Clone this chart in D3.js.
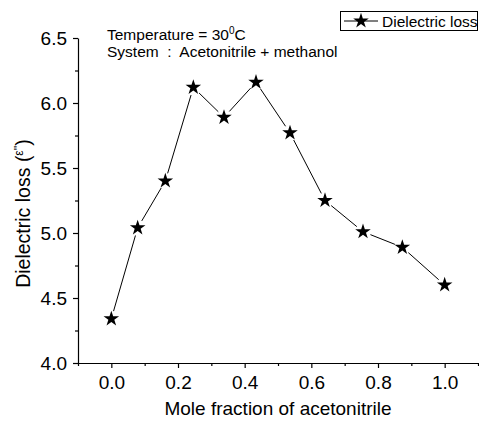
<!DOCTYPE html>
<html>
<head>
<meta charset="utf-8">
<script src="https://cdn.jsdelivr.net/npm/d3@7"></script>
<style>
  body { margin: 0; background: #fff; }
  svg { display: block; font-family: Arial, "Liberation Sans", sans-serif; }
</style>
</head>
<body>
<div id="chart"></div>
<script>
// Data
var moleFraction = [0.0, 0.079, 0.162, 0.246, 0.338, 0.434, 0.536, 0.641, 0.755, 0.873, 1.0];
var dielectricLoss = [4.34, 5.04, 5.40, 6.12, 5.89, 6.16, 5.77, 5.25, 5.01, 4.89, 4.60];
var xTicks = [0.0, 0.2, 0.4, 0.6, 0.8, 1.0];
var xMinorTicks = [-0.1, 0.1, 0.3, 0.5, 0.7, 0.9, 1.1];
var yTicks = [4.0, 4.5, 5.0, 5.5, 6.0, 6.5];
var yMinorTicks = [4.25, 4.75, 5.25, 5.75, 6.25];

var svgWidth = 479;
var svgHeight = 421;

var margin = { top: 38, right: 1, bottom: 58, left: 78 };
var chartWidth = svgWidth - margin.left - margin.right;
var chartHeight = svgHeight - margin.top - margin.bottom;

var svg = d3.select("#chart")
  .append("svg")
  .attr("width", svgWidth)
  .attr("height", svgHeight);

var chartGroup = svg.append("g")
  .attr("transform", `translate(${margin.left}, ${margin.top})`);

var xScale = d3.scaleLinear().domain([-0.1, 1.1]).range([0, chartWidth]);
var yScale = d3.scaleLinear().domain([4.0, 6.5]).range([chartHeight, 0]);

var points = moleFraction.map((x, i) => ({ x: x, y: dielectricLoss[i] }));

// Minor ticks first (no labels)
chartGroup.append("g")
  .attr("transform", `translate(0, ${chartHeight})`)
  .call(d3.axisBottom(xScale).tickValues(xMinorTicks).tickSize(3).tickFormat(""))
  .call(g => g.select(".domain").remove());

chartGroup.append("g")
  .call(d3.axisLeft(yScale).tickValues(yMinorTicks).tickSize(3).tickFormat(""))
  .call(g => g.select(".domain").remove());

// Major axes
var bottomAxis = d3.axisBottom(xScale)
  .tickValues(xTicks)
  .tickSizeInner(5)
  .tickSizeOuter(0)
  .tickPadding(8)
  .tickFormat(d3.format(".1f"));

var leftAxis = d3.axisLeft(yScale)
  .tickValues(yTicks)
  .tickSizeInner(5)
  .tickSizeOuter(0)
  .tickPadding(6)
  .tickFormat(d3.format(".1f"));

chartGroup.append("g")
  .attr("transform", `translate(0, ${chartHeight})`)
  .call(bottomAxis);

chartGroup.append("g")
  .call(leftAxis);

chartGroup.selectAll(".tick text")
  .attr("font-family", "Arial, 'Liberation Sans', sans-serif")
  .attr("font-size", 19)
  .attr("fill", "#000");
chartGroup.selectAll(".domain, .tick line")
  .attr("stroke", "#000")
  .attr("stroke-width", 1.2);

// Connecting line, trimmed so it stops short of each star
var gap = 8;
var segments = d3.pairs(points).map(([a, b]) => {
  var x1 = xScale(a.x), y1 = yScale(a.y), x2 = xScale(b.x), y2 = yScale(b.y);
  var len = Math.hypot(x2 - x1, y2 - y1);
  var ux = (x2 - x1) / len, uy = (y2 - y1) / len;
  return [x1 + ux * gap, y1 + uy * gap, x2 - ux * gap, y2 - uy * gap];
});

chartGroup.selectAll(".seg")
  .data(segments)
  .enter()
  .append("line")
  .attr("class", "seg")
  .attr("x1", d => d[0])
  .attr("y1", d => d[1])
  .attr("x2", d => d[2])
  .attr("y2", d => d[3])
  .attr("stroke", "#000")
  .attr("stroke-width", 1);

var star = d3.symbol().type(d3.symbolStar).size(75);

chartGroup.selectAll(".star")
  .data(points)
  .enter()
  .append("path")
  .attr("class", "star")
  .attr("d", star)
  .attr("transform", d => `translate(${xScale(d.x)}, ${yScale(d.y)})`)
  .attr("fill", "#000");

// Axis titles
svg.append("text")
  .attr("x", margin.left + chartWidth / 2)
  .attr("y", 415)
  .attr("text-anchor", "middle")
  .attr("font-size", 19)
  .text("Mole fraction of acetonitrile");

var yTitle = svg.append("text")
  .attr("transform", `translate(30, ${margin.top + chartHeight / 2 + 13}) rotate(-90)`)
  .attr("text-anchor", "middle")
  .attr("font-size", 19.5);
yTitle.append("tspan").text("Dielectric loss (");
yTitle.append("tspan").attr("font-size", 12).attr("dy", -7).text("ε''");
yTitle.append("tspan").attr("dy", 7).text(")");

// Annotation
var note1 = svg.append("text")
  .attr("x", 107)
  .attr("y", 40)
  .attr("font-size", 15.5);
note1.append("tspan").text("Temperature = 30");
note1.append("tspan").attr("font-size", 10).attr("dy", -6).text("0");
note1.append("tspan").attr("dy", 6).text("C");

svg.append("text")
  .attr("x", 107)
  .attr("y", 57)
  .attr("font-size", 15.5)
  .attr("xml:space", "preserve")
  .style("white-space", "pre")
  .text("System  :  Acetonitrile + methanol");

// Legend
var legend = svg.append("g");
legend.append("rect")
  .attr("x", 340.5)
  .attr("y", 11.5)
  .attr("width", 137)
  .attr("height", 19)
  .attr("fill", "#fff")
  .attr("stroke", "#000")
  .attr("stroke-width", 1);
legend.append("line")
  .attr("x1", 344).attr("x2", 378)
  .attr("y1", 21).attr("y2", 21)
  .attr("stroke", "#000");
legend.append("path")
  .attr("d", star)
  .attr("transform", "translate(361, 21)")
  .attr("fill", "#000");
legend.append("text")
  .attr("x", 382)
  .attr("y", 26.5)
  .attr("font-size", 15.5)
  .text("Dielectric loss");
</script>
</body>
</html>
